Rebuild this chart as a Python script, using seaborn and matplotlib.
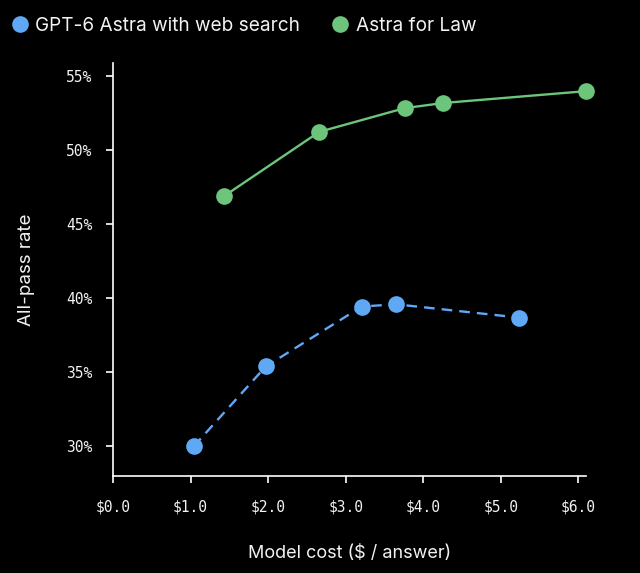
import matplotlib
matplotlib.use("Agg")
import matplotlib.pyplot as plt
from matplotlib.lines import Line2D
from matplotlib.ticker import FuncFormatter
import seaborn as sns
import pandas as pd

# Data
web_cost = [1.04, 1.97, 3.21, 3.65, 5.24]
web_rate = [30.0, 35.4, 39.45, 39.6, 38.7]
law_cost = [1.43, 2.66, 3.76, 4.26, 6.10]
law_rate = [46.9, 51.25, 52.85, 53.2, 54.0]
series_names = ["GPT-6 Astra with web search", "Astra for Law"]
x_ticks = [0, 1, 2, 3, 4, 5, 6]
y_ticks = [30, 35, 40, 45, 50, 55]

blue = "#5fa8f6"
green = "#6cc57b"
fg = "#f2f2f2"

df = pd.DataFrame({
    "cost": web_cost + law_cost,
    "rate": web_rate + law_rate,
    "series": [series_names[0]] * len(web_cost) + [series_names[1]] * len(law_cost),
})

sns.set_style("dark")
plt.rcParams["font.family"] = ["Inter", "DejaVu Sans"]

fig = plt.figure(figsize=(6.4, 5.73), dpi=100, facecolor="black")
ax = fig.add_axes([0.1766, 0.1693, 0.739, 0.7207])
ax.set_facecolor("black")

sns.lineplot(data=df[df.series == series_names[0]], x="cost", y="rate", ax=ax,
             color=blue, linestyle=(0, (4.5, 3)), linewidth=1.7, marker="o",
             markersize=12, markeredgewidth=0, legend=False, clip_on=False)
sns.lineplot(data=df[df.series == series_names[1]], x="cost", y="rate", ax=ax,
             color=green, linewidth=1.7, marker="o",
             markersize=12, markeredgewidth=0, legend=False, clip_on=False)

ax.set_xlim(0, 6.1)
ax.set_ylim(28, 55.9)
ax.set_xticks(x_ticks)
ax.set_yticks(y_ticks)
ax.xaxis.set_major_formatter(FuncFormatter(lambda v, p: f"${v:.1f}"))
ax.yaxis.set_major_formatter(FuncFormatter(lambda v, p: f"{int(v)}%"))
ax.tick_params(axis="both", colors="white", direction="out", length=5, width=1.2,
               labelcolor=fg, bottom=True, left=True, labelsize=10.5)
ax.tick_params(axis="x", pad=12)
ax.tick_params(axis="y", pad=10)
for lab in ax.get_xticklabels() + ax.get_yticklabels():
    lab.set_family("DejaVu Sans Mono")
    lab.set_color(fg)
ax.grid(False)
for s in ["top", "right"]:
    ax.spines[s].set_visible(False)
for s in ["left", "bottom"]:
    ax.spines[s].set_visible(True)
    ax.spines[s].set_color("white")
    ax.spines[s].set_linewidth(1.2)

ax.set_xlabel("Model cost ($ / answer)", color=fg, fontsize=13, labelpad=22)
ax.set_ylabel("All-pass rate", color=fg, fontsize=13.5, labelpad=22)

handles = [Line2D([], [], linestyle="none", marker="o", markersize=12,
                  markerfacecolor=c, markeredgewidth=0) for c in (blue, green)]
leg = fig.legend(handles, series_names, loc="upper left", bbox_to_anchor=(-0.01, 1.0),
                 ncol=2, frameon=False, fontsize=13.7, handletextpad=0.3,
                 columnspacing=1.6, handlelength=1.0)
for t in leg.get_texts():
    t.set_color(fg)

fig.savefig("out.png", dpi=100, facecolor="black")
